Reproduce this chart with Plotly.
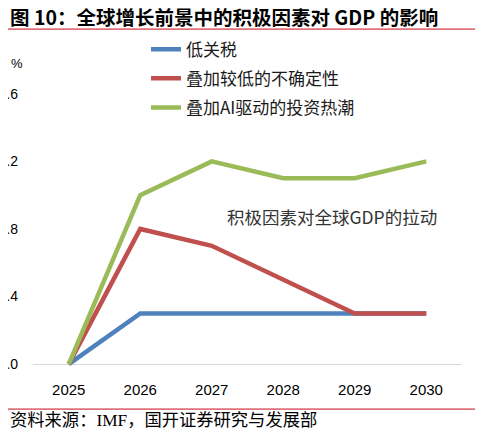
import plotly.graph_objects as go

# ---- data ----
years = ["2025", "2026", "2027", "2028", "2029", "2030"]
low_tariff = [0, 0.3, 0.3, 0.3, 0.3, 0.3]
lower_uncertainty = [0, 0.8, 0.7, 0.5, 0.3, 0.3]
ai_investment = [0, 1.0, 1.2, 1.1, 1.1, 1.2]
series_names = ["低关税", "叠加较低的不确定性", "叠加AI驱动的投资热潮"]
y_ticks = [0, 0.4, 0.8, 1.2, 1.6]

colors = ["#4F81BD", "#C0504D", "#9BBB59"]

# the page body keeps its default 8px margin, so the figure is 8px smaller
OFF = 8
PAGE_W, PAGE_H = 483, 436
W, H = PAGE_W - OFF, PAGE_H - OFF
# plot area in page pixels
L, R = 33, 462
T, B = 60.25, 380.9


def px_x(p):
    return (p - L) / (R - L)


def px_y(p):
    return (B - p) / (B - T)


fig = go.Figure()
for name, vals, c in zip(series_names, [low_tariff, lower_uncertainty, ai_investment], colors):
    fig.add_trace(go.Scatter(
        x=years, y=vals, mode="lines", name=name,
        line=dict(color=c, width=4.5),
        legendgroup=name,
    ))

fig.update_layout(
    width=W, height=H,
    margin=dict(l=L - OFF, r=PAGE_W - R, t=T - OFF, b=PAGE_H - B, autoexpand=False),
    paper_bgcolor="white", plot_bgcolor="white",
    showlegend=True,
    legend=dict(
        x=px_x(146), y=px_y(32), xanchor="left", yanchor="top",
        font=dict(family="Noto Sans CJK SC", size=17, color="#1a1a1a"),
        bgcolor="rgba(0,0,0,0)", tracegroupgap=4,
    ),
    xaxis=dict(
        type="category", range=[-0.5, 5.5], showgrid=False, zeroline=False,
        showline=False, ticks="",
        tickfont=dict(family="Liberation Sans", size=15, color="#000"),
        automargin=False, ticklabelstandoff=-2,
    ),
    yaxis=dict(
        range=[-0.1, 1.8], tickvals=y_ticks, tickformat=".1f",
        showgrid=False, zeroline=True, zerolinecolor="#D9D9D9", zerolinewidth=1.2,
        showline=False, ticks="",
        tickfont=dict(family="Liberation Sans", size=14, color="#000"),
        automargin=False, ticklabelstandoff=14,
    ),
)

annotations = [
    dict(text="%", xref="paper", yref="paper", x=px_x(8.5), y=px_y(63.5),
         xanchor="left", yanchor="middle", showarrow=False,
         font=dict(family="Liberation Sans", size=13, color="#000")),
    dict(text="积极因素对全球GDP的拉动", xref="paper", yref="paper",
         x=px_x(225), y=px_y(217), xanchor="left", yanchor="middle", showarrow=False,
         font=dict(family="Noto Sans CJK SC", size=17.5, color="#333333")),
    dict(text="<b>图 10：全球增长前景中的积极因素对 GDP 的影响</b>", xref="paper", yref="paper",
         x=px_x(8), y=px_y(17), xanchor="left", yanchor="middle", showarrow=False,
         font=dict(family="Noto Sans CJK SC", size=19.5, color="#000")),
    dict(text="资料来源：IMF，国开证券研究与发展部", xref="paper", yref="paper",
         x=px_x(8), y=px_y(420), xanchor="left", yanchor="middle", showarrow=False,
         font=dict(family="Liberation Serif, Noto Sans CJK SC", size=17.3, color="#000")),
]
fig.update_layout(annotations=annotations)

line_color = "#E0707A"
for ypx in (29.5, 409):
    fig.add_shape(type="line", xref="paper", yref="paper", layer="above",
                  x0=px_x(8), x1=px_x(478), y0=px_y(ypx), y1=px_y(ypx),
                  line=dict(color=line_color, width=1.8))

fig.write_html("out.html", config={"displayModeBar": False})
